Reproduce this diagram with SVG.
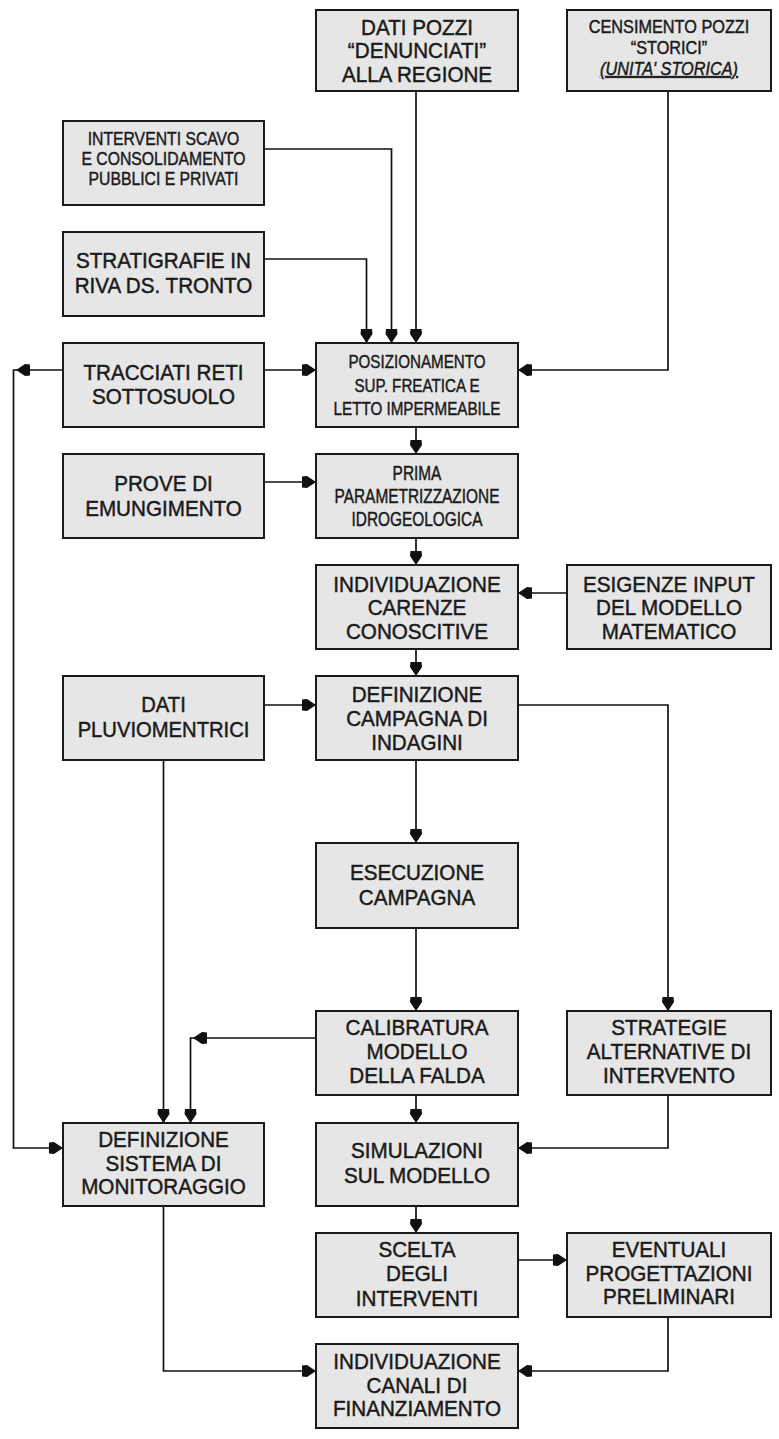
<svg xmlns="http://www.w3.org/2000/svg" width="779" height="1439" viewBox="0 0 779 1439">
<style>
.box{fill:#e6e6e6;stroke:#1a1a1a;stroke-width:2}
.t{font-family:"Liberation Sans",Arial,sans-serif;font-size:21.5px;fill:#1a1a1a;stroke:#1a1a1a;stroke-width:0.45;text-anchor:middle}
.c{fill:none;stroke:#111;stroke-width:1.7}
.a{marker-end:url(#arr)}
</style>
<defs>
<marker id="arr" viewBox="-15 -8 16 16" markerWidth="16" markerHeight="16" refX="0" refY="0" orient="auto" markerUnits="userSpaceOnUse">
<path d="M0,0 L-9,-6 L-14,-5.5 L-14,5.5 L-9,6 Z" fill="#111"/>
</marker>
</defs>
<rect width="779" height="1439" fill="#fff"/>
<g id="connectors">
<path class="c a" d="M416,91 V343"/>
<path class="c a" d="M264,149 H391.5 V343"/>
<path class="c a" d="M264,259 H366.5 V343"/>
<path class="c a" d="M668,91 V370 H518"/>
<path class="c a" d="M264,370 H316"/>
<path class="c a" d="M63,370 H16"/>
<path class="c a" d="M16,370 H13.5 V1148 H63"/>
<path class="c a" d="M416,427 V454"/>
<path class="c a" d="M264,482 H316"/>
<path class="c a" d="M416,538 V565"/>
<path class="c a" d="M567,593 H518"/>
<path class="c a" d="M416,649 V676"/>
<path class="c a" d="M264,705 H316"/>
<path class="c a" d="M518,705 H668 V1011"/>
<path class="c a" d="M416,760 V843"/>
<path class="c a" d="M416,928 V1011"/>
<path class="c a" d="M163.5,760 V1123"/>
<path class="c a" d="M316,1038 H193"/>
<path class="c a" d="M193,1038 H190.5 V1123"/>
<path class="c a" d="M416,1095 V1123"/>
<path class="c a" d="M668,1095 V1148 H518"/>
<path class="c a" d="M416,1206 V1233"/>
<path class="c a" d="M518,1260 H567"/>
<path class="c a" d="M163.5,1206 V1371 H316"/>
<path class="c a" d="M668,1317 V1371 H518"/>
</g>
<g id="n_dati_pozzi"><rect class="box" x="316" y="10" width="202" height="81"/>
<g transform="translate(417,0) scale(0.96,1)"><text class="t" x="0" y="35">DATI POZZI</text><text class="t" x="0" y="58.5">“DENUNCIATI”</text><text class="t" x="0" y="82">ALLA REGIONE</text></g></g>
<g id="n_censimento"><rect class="box" x="567" y="10" width="204" height="81"/>
<g transform="translate(669,0) scale(0.88,1)"><text class="t" style="font-size:18.5px" x="0" y="33.5">CENSIMENTO POZZI</text><text class="t" style="font-size:18.5px" x="0" y="54">“STORICI”</text><text class="t" style="font-size:18.5px;font-style:italic;text-decoration:underline" x="0" y="75">(UNITA' STORICA)</text></g></g>
<g id="n_interventi"><rect class="box" x="63" y="121" width="201" height="84"/>
<g transform="translate(163.5,0) scale(0.83,1)"><text class="t" style="font-size:19px" x="0" y="145">INTERVENTI SCAVO</text><text class="t" style="font-size:19px" x="0" y="165">E CONSOLIDAMENTO</text><text class="t" style="font-size:19px" x="0" y="185">PUBBLICI E PRIVATI</text></g></g>
<g id="n_stratigrafie"><rect class="box" x="63" y="232" width="201" height="84"/>
<g transform="translate(163.5,0) scale(0.96,1)"><text class="t" x="0" y="268.5">STRATIGRAFIE IN</text><text class="t" x="0" y="293">RIVA DS. TRONTO</text></g></g>
<g id="n_tracciati"><rect class="box" x="63" y="343" width="201" height="84"/>
<g transform="translate(163.5,0) scale(0.96,1)"><text class="t" x="0" y="380">TRACCIATI RETI</text><text class="t" x="0" y="404">SOTTOSUOLO</text></g></g>
<g id="n_posizionamento"><rect class="box" x="316" y="343" width="202" height="84"/>
<g transform="translate(417,0) scale(0.8,1)"><text class="t" style="font-size:19px" x="0" y="368.3">POSIZIONAMENTO</text><text class="t" style="font-size:19px" x="0" y="391.7">SUP. FREATICA E</text><text class="t" style="font-size:19px" x="0" y="415">LETTO IMPERMEABILE</text></g></g>
<g id="n_prove"><rect class="box" x="63" y="454" width="201" height="84"/>
<g transform="translate(163.5,0) scale(0.96,1)"><text class="t" x="0" y="491.5">PROVE DI</text><text class="t" x="0" y="516">EMUNGIMENTO</text></g></g>
<g id="n_prima"><rect class="box" x="316" y="454" width="202" height="84"/>
<g transform="translate(417,0) scale(0.79,1)"><text class="t" style="font-size:19.5px" x="0" y="480">PRIMA</text><text class="t" style="font-size:19.5px" x="0" y="503.3">PARAMETRIZZAZIONE</text><text class="t" style="font-size:19.5px" x="0" y="526.5">IDROGEOLOGICA</text></g></g>
<g id="n_individuazione_carenze"><rect class="box" x="316" y="565" width="202" height="84"/>
<g transform="translate(417,0) scale(0.96,1)"><text class="t" x="0" y="592">INDIVIDUAZIONE</text><text class="t" x="0" y="615.5">CARENZE</text><text class="t" x="0" y="639">CONOSCITIVE</text></g></g>
<g id="n_esigenze"><rect class="box" x="567" y="565" width="204" height="84"/>
<g transform="translate(669,0) scale(0.96,1)"><text class="t" x="0" y="592">ESIGENZE INPUT</text><text class="t" x="0" y="615.5">DEL MODELLO</text><text class="t" x="0" y="639">MATEMATICO</text></g></g>
<g id="n_pluviometrici"><rect class="box" x="63" y="676" width="201" height="84"/>
<g transform="translate(163.5,0) scale(0.94,1)"><text class="t" x="0" y="712.3">DATI</text><text class="t" x="0" y="737.3">PLUVIOMENTRICI</text></g></g>
<g id="n_definizione_campagna"><rect class="box" x="316" y="676" width="202" height="84"/>
<g transform="translate(417,0) scale(0.96,1)"><text class="t" x="0" y="702">DEFINIZIONE</text><text class="t" x="0" y="726">CAMPAGNA DI</text><text class="t" x="0" y="750">INDAGINI</text></g></g>
<g id="n_esecuzione"><rect class="box" x="316" y="843" width="202" height="85"/>
<g transform="translate(417,0) scale(0.96,1)"><text class="t" x="0" y="880">ESECUZIONE</text><text class="t" x="0" y="905">CAMPAGNA</text></g></g>
<g id="n_calibratura"><rect class="box" x="316" y="1011" width="202" height="84"/>
<g transform="translate(417,0) scale(0.96,1)"><text class="t" x="0" y="1035.5">CALIBRATURA</text><text class="t" x="0" y="1059.5">MODELLO</text><text class="t" x="0" y="1083">DELLA FALDA</text></g></g>
<g id="n_strategie"><rect class="box" x="567" y="1011" width="204" height="84"/>
<g transform="translate(669,0) scale(0.96,1)"><text class="t" x="0" y="1035.5">STRATEGIE</text><text class="t" x="0" y="1059.5">ALTERNATIVE DI</text><text class="t" x="0" y="1083">INTERVENTO</text></g></g>
<g id="n_definizione_sistema"><rect class="box" x="63" y="1123" width="201" height="83"/>
<g transform="translate(163.5,0) scale(0.96,1)"><text class="t" x="0" y="1147.5">DEFINIZIONE</text><text class="t" x="0" y="1171">SISTEMA DI</text><text class="t" x="0" y="1194.5">MONITORAGGIO</text></g></g>
<g id="n_simulazioni"><rect class="box" x="316" y="1123" width="202" height="83"/>
<g transform="translate(417,0) scale(0.96,1)"><text class="t" x="0" y="1158.5">SIMULAZIONI</text><text class="t" x="0" y="1183.5">SUL MODELLO</text></g></g>
<g id="n_scelta"><rect class="box" x="316" y="1233" width="202" height="84"/>
<g transform="translate(417,0) scale(0.96,1)"><text class="t" x="0" y="1257">SCELTA</text><text class="t" x="0" y="1281.5">DEGLI</text><text class="t" x="0" y="1306">INTERVENTI</text></g></g>
<g id="n_eventuali"><rect class="box" x="567" y="1233" width="204" height="84"/>
<g transform="translate(669,0) scale(0.96,1)"><text class="t" x="0" y="1257.5">EVENTUALI</text><text class="t" x="0" y="1281">PROGETTAZIONI</text><text class="t" x="0" y="1304.5">PRELIMINARI</text></g></g>
<g id="n_canali"><rect class="box" x="316" y="1344" width="202" height="84"/>
<g transform="translate(417,0) scale(0.96,1)"><text class="t" x="0" y="1369.5">INDIVIDUAZIONE</text><text class="t" x="0" y="1393">CANALI DI</text><text class="t" x="0" y="1416.5">FINANZIAMENTO</text></g></g>
</svg>
